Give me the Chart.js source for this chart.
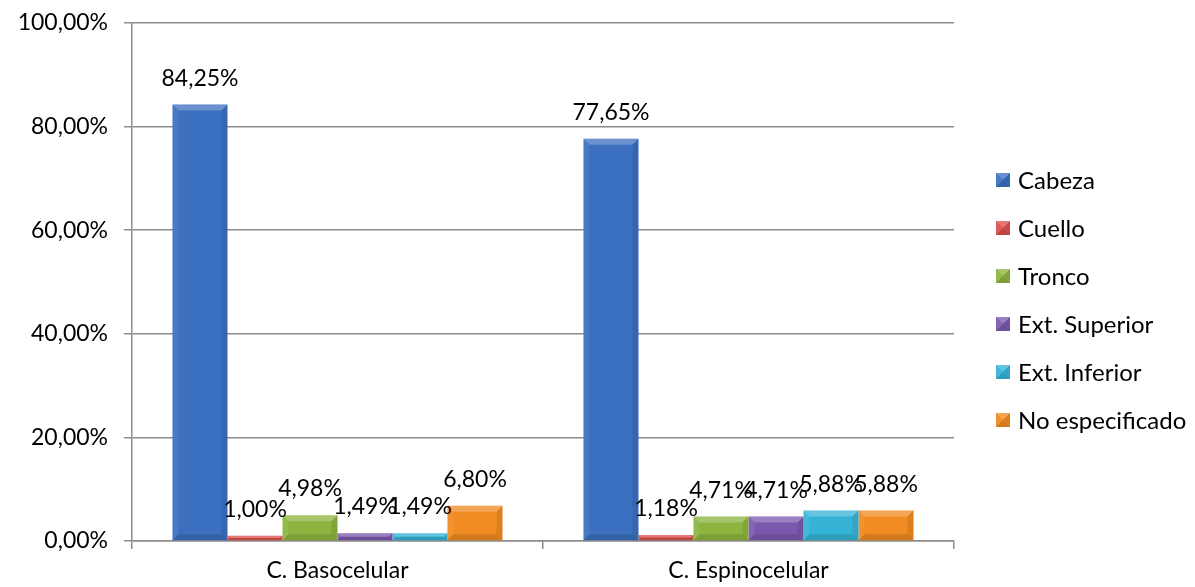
<!DOCTYPE html>
<html>
<head>
<meta charset="utf-8">
<script src="https://cdn.jsdelivr.net/npm/chart.js@4.4.1/dist/chart.umd.min.js"></script>
<style>
  html, body { margin: 0; padding: 0; background: #fff; }
</style>
</head>
<body>
<canvas id="grafico" width="1195" height="587"></canvas>
<script>
var categorias = ["C. Basocelular", "C. Espinocelular"];
var zonas = ["Cabeza", "Cuello", "Tronco", "Ext. Superior", "Ext. Inferior", "No especificado"];
var cabeza = [84.25, 77.65];
var cuello = [1.00, 1.18];
var tronco = [4.98, 4.71];
var extSuperior = [1.49, 4.71];
var extInferior = [1.49, 5.88];
var noEspecificado = [6.80, 5.88];
var ticksY = [0, 20, 40, 60, 80, 100];

var colores = ["#3b6fbf", "#d9504c", "#8cb43f", "#7b58ad", "#35b3d6", "#f08a22"];
var series = [cabeza, cuello, tronco, extSuperior, extInferior, noEspecificado];

var fuente = "Lato, 'Noto Sans', sans-serif";
var gris = "#8c8c8c";

function porcentaje(v) {
  return v.toFixed(2).replace(".", ",") + "%";
}

// efecto bisel tipo Excel encima de cada rectangulo
function bisel(ctx, l, t, r, b) {
  var h = b - t, w = r - l;
  var s = Math.min(6, h / 2, w / 2);
  if (s <= 0) return;
  ctx.save();
  ctx.fillStyle = "rgba(255,255,255,0.24)";
  ctx.beginPath();
  ctx.moveTo(l, t); ctx.lineTo(r, t); ctx.lineTo(r - s, t + s); ctx.lineTo(l + s, t + s);
  ctx.closePath(); ctx.fill();
  ctx.fillStyle = "rgba(255,255,255,0.07)";
  ctx.beginPath();
  ctx.moveTo(l, t); ctx.lineTo(l + s, t + s); ctx.lineTo(l + s, b - s); ctx.lineTo(l, b);
  ctx.closePath(); ctx.fill();
  ctx.fillStyle = "rgba(0,0,0,0.08)";
  ctx.beginPath();
  ctx.moveTo(r, t); ctx.lineTo(r - s, t + s); ctx.lineTo(r - s, b - s); ctx.lineTo(r, b);
  ctx.closePath(); ctx.fill();
  ctx.fillStyle = "rgba(0,0,0,0.12)";
  ctx.beginPath();
  ctx.moveTo(l, b); ctx.lineTo(l + s, b - s); ctx.lineTo(r - s, b - s); ctx.lineTo(r, b);
  ctx.closePath(); ctx.fill();
  ctx.restore();
}

var biselBarras = {
  id: "biselBarras",
  afterDatasetsDraw: function (chart) {
    var ctx = chart.ctx;
    chart.data.datasets.forEach(function (ds, i) {
      chart.getDatasetMeta(i).data.forEach(function (bar) {
        var p = bar.getProps(["x", "y", "width", "base"], true);
        bisel(ctx, p.x - p.width / 2, p.y, p.x + p.width / 2, p.base);
      });
    });
  }
};

var etiquetas = {
  id: "etiquetas",
  afterDatasetsDraw: function (chart) {
    var ctx = chart.ctx;
    ctx.save();
    ctx.font = "23px " + fuente;
    ctx.fillStyle = "#000";
    ctx.textAlign = "center";
    ctx.textBaseline = "alphabetic";
    chart.data.datasets.forEach(function (ds, i) {
      chart.getDatasetMeta(i).data.forEach(function (bar, j) {
        ctx.fillText(porcentaje(ds.data[j]), bar.x, bar.y - 19);
      });
    });
    ctx.restore();
  }
};

var leyenda = {
  id: "leyenda",
  afterDraw: function (chart) {
    var ctx = chart.ctx;
    ctx.save();
    ctx.font = "24px " + fuente;
    ctx.textBaseline = "middle";
    ctx.textAlign = "left";
    chart.data.datasets.forEach(function (ds, i) {
      var cy = 180 + i * 48;
      ctx.fillStyle = ds.backgroundColor;
      ctx.fillRect(996, cy - 7, 14, 14);
      bisel(ctx, 996, cy - 7, 1010, cy + 7);
      ctx.fillStyle = "#000";
      ctx.fillText(ds.label, 1018, cy + 1);
    });
    ctx.restore();
  }
};

new Chart(document.getElementById("grafico"), {
  type: "bar",
  data: {
    labels: categorias,
    datasets: zonas.map(function (z, i) {
      return {
        label: z,
        data: series[i],
        backgroundColor: colores[i],
        borderWidth: 0,
        categoryPercentage: 0.803,
        barPercentage: 1
      };
    })
  },
  options: {
    responsive: false,
    animation: false,
    devicePixelRatio: 1,
    layout: { padding: { top: 23, right: 241, bottom: 0, left: 0 } },
    plugins: {
      legend: { display: false },
      tooltip: { enabled: false }
    },
    scales: {
      x: {
        offset: true,
        grid: { offset: true, drawOnChartArea: false, drawTicks: true, tickLength: 8, color: gris, lineWidth: 1.5 },
        border: { color: gris, width: 1.5 },
        ticks: { color: "#000", font: { family: fuente, size: 23 }, padding: 8 },
        afterFit: function (s) { s.height = 46; s.paddingLeft = 0; s.paddingRight = 0; }
      },
      y: {
        min: 0,
        max: 100,
        afterBuildTicks: function (s) { s.ticks = ticksY.map(function (v) { return { value: v }; }); },
        grid: { color: gris, lineWidth: 1.5, tickLength: 8 },
        border: { color: gris, width: 1.5 },
        ticks: {
          color: "#000",
          font: { family: fuente, size: 23 },
          padding: 16,
          callback: function (v) { return porcentaje(v); }
        },
        afterFit: function (s) { s.width = 132; s.paddingTop = 0; s.paddingBottom = 0; }
      }
    }
  },
  plugins: [biselBarras, etiquetas, leyenda]
});
</script>
</body>
</html>
